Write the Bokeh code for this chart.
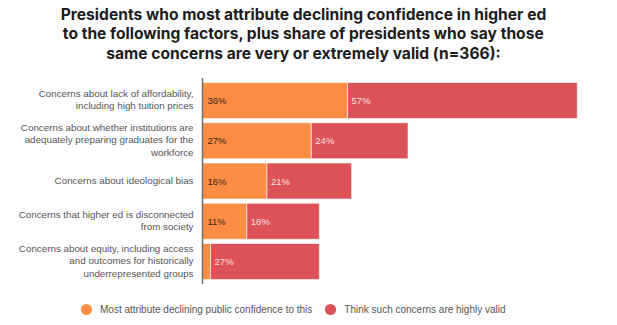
from bokeh.plotting import figure
from bokeh.models import ColumnDataSource, Range1d, Label, Legend, LegendItem
from bokeh.core.properties import value
from bokeh.embed import file_html
from bokeh.resources import INLINE

# ---- data ----
title_lines = [
    "Presidents who most attribute declining confidence in higher ed",
    "to the following factors, plus share of presidents who say those",
    "same concerns are very or extremely valid (n=366):",
]
categories = [
    "Concerns about lack of affordability,\nincluding high tuition prices",
    "Concerns about whether institutions are\nadequately preparing graduates for the\nworkforce",
    "Concerns about ideological bias",
    "Concerns that higher ed is disconnected\nfrom society",
    "Concerns about equity, including access\nand outcomes for historically\nunderrepresented groups",
]
most_attribute = [36, 27, 16, 11, 2]
highly_valid = [57, 24, 21, 18, 27]
most_labels = ["36%", "27%", "16%", "11%", ""]
valid_labels = ["57%", "24%", "21%", "18%", "27%"]
series_names = ["Most attribute declining public confidence to this",
                "Think such concerns are highly valid"]

ORANGE = "#FC8D45"
RED = "#DC5257"
W, H = 617, 325
PX_PER_PCT = 4.03
AXIS_PX = 202
ROW0_PX = 100
ROW_PITCH = 40.25

n = len(categories)
rows = list(range(n))
ends = [a + b for a, b in zip(most_attribute, highly_valid)]

x_start = -AXIS_PX / PX_PER_PCT
x_end = (W - AXIS_PX) / PX_PER_PCT
y_top = -ROW0_PX / ROW_PITCH
y_bottom = y_top + H / ROW_PITCH

p = figure(width=W, height=H, output_backend="svg", toolbar_location=None,
           x_range=Range1d(x_start, x_end), y_range=Range1d(y_bottom, y_top),
           x_axis_location=None, y_axis_location=None, min_border=0,
           outline_line_color=None, background_fill_color="white")
p.xgrid.visible = False
p.ygrid.visible = False

src = ColumnDataSource(dict(y=rows, a=most_attribute, end=ends,
                            zero=[0] * n, la=most_labels, lv=valid_labels))
bar_h = 36 / ROW_PITCH
r1 = p.hbar(y="y", left="zero", right="a", height=bar_h, source=src,
            fill_color=ORANGE, line_color="white", line_alpha=0.6, line_width=1)
r2 = p.hbar(y="y", left="a", right="end", height=bar_h, source=src,
            fill_color=RED, line_color="white", line_alpha=0.6, line_width=1)

# vertical baseline
p.segment(x0=[0], x1=[0], y0=[-0.56], y1=[n - 1 + 0.56], line_color="#6e6e6e", line_width=1.5)

# value labels
p.text(x="zero", y="y", text="la", source=src, x_offset=5,
       text_font=value("Liberation Sans"), text_font_size="9.5px",
       text_color="#3a2414", text_baseline="middle", text_align="left")
p.text(x="a", y="y", text="lv", source=src, x_offset=4,
       text_font=value("Liberation Sans"), text_font_size="9.5px",
       text_color="#f9e2e2", text_baseline="middle", text_align="left")

# category labels (one glyph row per text line)
lx, ly, lt, loff = [], [], [], []
for i, c in enumerate(categories):
    parts = c.split("\n")
    k = len(parts)
    for j, t in enumerate(parts):
        lx.append(0)
        ly.append(i)
        lt.append(t)
        loff.append((j - (k - 1) / 2) * 12.5 - 0.8)
lsrc = ColumnDataSource(dict(x=lx, y=ly, t=lt, off=loff))
p.text(x="x", y="y", text="t", y_offset="off", x_offset=-9, source=lsrc,
       text_font=value("Liberation Sans"), text_font_size="9.8px",
       text_color="#555555", text_baseline="middle", text_align="right")

# title
baselines = [13.5, 33.3, 53]
for t, b in zip(title_lines, baselines):
    p.add_layout(Label(x=303, y=H - b, x_units="screen", y_units="screen", text=t,
                       text_align="center", text_baseline="alphabetic",
                       text_font="Inter", text_font_style="bold", text_font_size="15.6px",
                       text_color="#1c1c1c"))

# legend (marker-only renderers with no visible points)
nan = float("nan")
d1 = p.scatter(x=[nan], y=[nan], marker="circle", fill_color=ORANGE, line_color=None)
d2 = p.scatter(x=[nan], y=[nan], marker="circle", fill_color=RED, line_color=None)
legend = Legend(items=[LegendItem(label=series_names[0], renderers=[d1]),
                       LegendItem(label=series_names[1], renderers=[d2])],
                orientation="horizontal", location=(72, 2),
                glyph_width=28, glyph_height=28, label_standoff=0, spacing=4,
                padding=0, margin=0, border_line_color=None,
                background_fill_alpha=0,
                label_text_font="Liberation Sans", label_text_font_size="10px",
                label_text_color="#555555")
p.add_layout(legend, "center")

open("out.html", "w").write(file_html(p, INLINE))
